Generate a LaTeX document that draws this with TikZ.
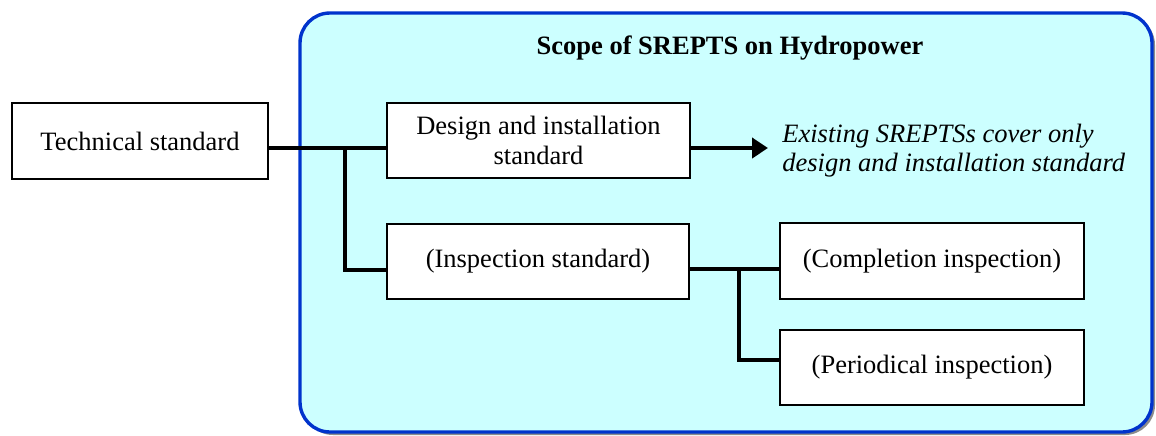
\documentclass[tikz,border=0pt]{standalone}
\usepackage{fontspec}
\setmainfont{Liberation Serif}
\usetikzlibrary{arrows.meta}
\definecolor{panelfill}{HTML}{CCFFFF}
\definecolor{panelblue}{HTML}{0033CC}
\definecolor{panelshadow}{HTML}{8C8C8C}
\begin{document}
\begin{tikzpicture}[x=0.5pt,y=-0.5pt,
  every node/.style={font=\fontsize{13.25}{14.6}\selectfont},
  stdbox/.style={draw=black,line width=1pt,fill=white,inner sep=0pt,outer sep=0pt,
    minimum width=#1,minimum height=37.8pt,align=center},
  link/.style={line width=2pt},
]
\useasboundingbox (0,0) rectangle (1156,435);

% scope panel with its drop shadow
\fill[panelshadow,rounded corners=15pt] (303,15) rectangle (1155,435);
\draw[panelblue,fill=panelfill,line width=1.7pt,rounded corners=15pt] (300,13) rectangle (1152,432);
\node[font=\fontsize{13.25}{14.6}\selectfont\bfseries] (title) at (730,48) {Scope of SREPTS on Hydropower};

% boxes
\node[stdbox=128pt] (tech) at (140,141) {Technical standard};
\node[stdbox=151.5pt] (design) at (538.5,140.5) {Design and installation\\standard};
\node[stdbox=151pt] (insp) at (538,261.5) {(Inspection standard)};
\node[stdbox=152pt] (compl) at (932,261) {(Completion inspection)};
\node[stdbox=152pt] (period) at (932,367.5) {(Periodical inspection)};

% remark beside the arrow
\node[anchor=west,inner sep=0pt,align=left,font=\fontsize{13.25}{14.4}\selectfont\itshape] (note) at (782,151)
  {Existing SREPTSs cover only\\design and installation standard};

% branching points
\coordinate (j1) at (345,148);
\coordinate (j2) at (345,270);
\coordinate (k1) at (739,269);
\coordinate (k2) at (739,360);
\coordinate (tip) at (768,148);

% connectors
\draw[link] (tech.east |- j1) -- (j1) -- (design.west |- j1);
\draw[link] (j1) |- (insp.west |- j2);
\draw[link] (insp.east |- k1) -- (k1) -- (compl.west |- k1);
\draw[link] (k1) |- (period.west |- k2);
\draw[link,line width=2.2pt,-{Triangle[length=8pt,width=10pt]}] (design.east |- j1) -- (tip);
\end{tikzpicture}
\end{document}
